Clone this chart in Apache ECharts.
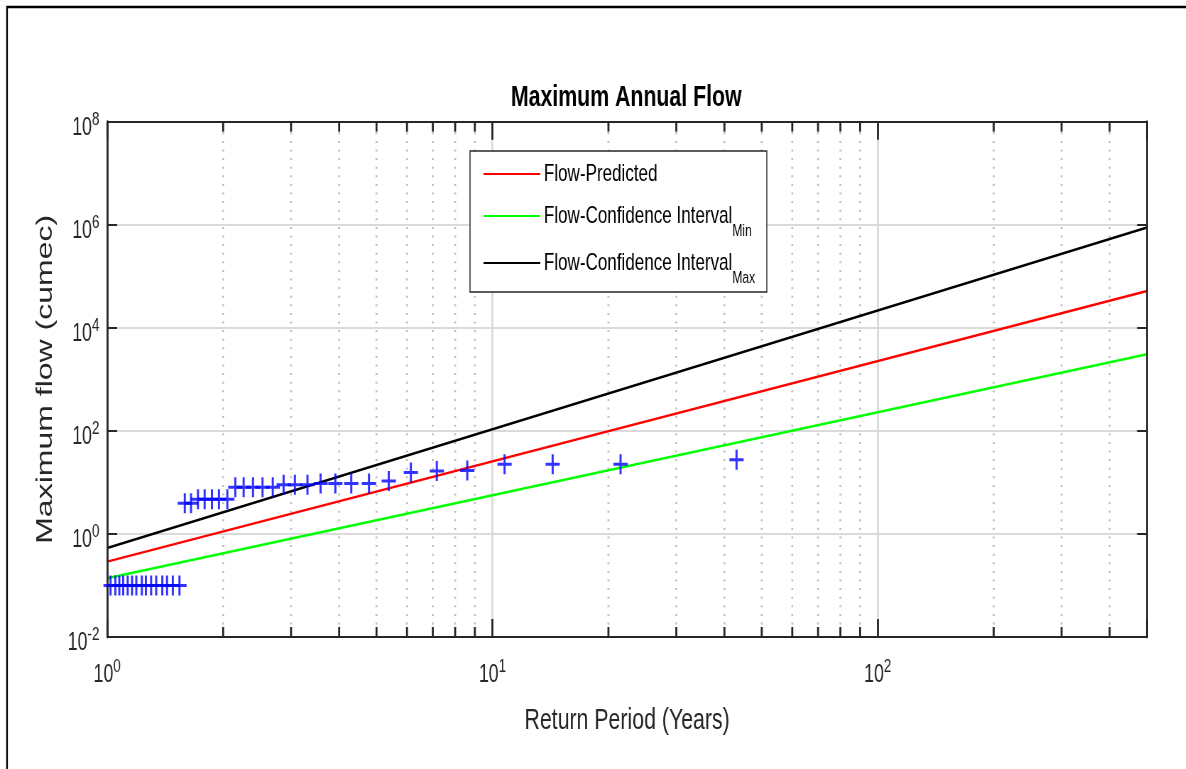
<!DOCTYPE html>
<html><head><meta charset="utf-8">
<script src="https://cdn.jsdelivr.net/npm/echarts@6.0.0/dist/echarts.min.js"></script>
<style>
html,body{margin:0;padding:0;overflow:hidden;background:#fff;width:1186px;height:769px}
#chart{width:1670px;height:769px;transform:scaleX(0.71);transform-origin:0 0}
</style></head><body><div id="chart"></div>
<script>
// Observed annual maxima (plotting positions)
const returnPeriod = [43, 21.5, 14.33, 10.75, 8.6, 7.17, 6.14, 5.38, 4.78, 4.3, 3.91, 3.58, 3.31, 3.07, 2.87, 2.69, 2.53, 2.39, 2.26, 2.15, 2.05, 1.95, 1.87, 1.79, 1.72, 1.65, 1.59, 1.54, 1.48, 1.43, 1.39, 1.34, 1.30, 1.26, 1.23, 1.19, 1.16, 1.13, 1.10, 1.075, 1.05, 1.02];
const observedFlow = [27.5, 22.5, 22.5, 22.5, 17.0, 16.7, 15.6, 10.7, 9.5, 9.5, 9.5, 9.5, 9.0, 9.0, 9.0, 8.1, 8.1, 8.1, 8.1, 8.1, 4.7, 4.7, 4.7, 4.7, 4.7, 3.95, 3.95, 0.1, 0.1, 0.1, 0.1, 0.1, 0.1, 0.1, 0.1, 0.1, 0.1, 0.1, 0.1, 0.1, 0.1, 0.1];
// Fitted lines (end points)
const lineReturnPeriod = [1, 500];
const flowPredicted = [0.29, 51900];
const flowCIMin = [0.138, 3060];
const flowCIMax = [0.535, 883000];
// Axis ticks
const xMin = 1, xMax = 500;
const yMin = 0.01, yMax = 1e8;
const minorXTicks = [2, 3, 4, 5, 6, 7, 8, 9, 20, 30, 40, 50, 60, 70, 80, 90, 200, 300, 400];
const seriesNames = ['Flow-Predicted', 'Flow-Confidence Interval_Min', 'Flow-Confidence Interval_Max'];
const titleText = 'Maximum Annual Flow';
const xName = 'Return Period (Years)';
const yName = 'Maximum flow (cumec)';

const FONT = "'Liberation Sans', Arial, Helvetica, sans-serif";
const AX = '#262626';

function zip(xs, ys) { return xs.map((x, i) => [x, ys[i]]); }
function powLabel(style) {
  return function (v) {
    const e = Math.log10(v);
    const r = Math.round(e);
    if (Math.abs(e - r) > 1e-6) return '';
    return '{' + style + 'b|10}{' + style + 's|' + r + '}';
  };
}

const chart = echarts.init(document.getElementById('chart'), null, { renderer: 'canvas' });

const baseX = { type: 'log', logBase: 10, min: xMin, max: xMax, interval: 1, gridIndex: 0 };
const baseY = { type: 'log', logBase: 10, min: yMin, max: yMax, interval: 2, gridIndex: 0 };

// one legend block per entry
const legendTops = [150, 192, 239];
const legendRich = {
  m: { fontSize: 24, lineHeight: 26, fontFamily: FONT },
  s: { fontSize: 17, lineHeight: 16, padding: [30, 0, 0, 0], fontFamily: FONT }
};
const legends = seriesNames.map((name, i) => ({
  orient: 'vertical', left: 680, top: legendTops[i], padding: 0, z: 6,
  itemWidth: 80, itemHeight: 60, itemGap: 0,
  itemStyle: { opacity: 0, borderWidth: 0 },
  data: [name],
  formatter: function (n) {
    const p = n.split('_');
    return p.length > 1 ? '{m|' + p[0] + '}{s|' + p[1] + '}' : '{m|' + n + '}';
  },
  textStyle: { color: '#000', fontFamily: FONT, fontSize: 24, rich: legendRich }
}));

chart.setOption({
  animation: false,
  backgroundColor: '#fff',
  textStyle: { fontFamily: FONT },
  title: {
    text: titleText, left: 882, top: 83, padding: 0, textAlign: 'center',
    textStyle: { fontFamily: FONT, fontSize: 30, fontWeight: 'bold', color: '#000' }
  },
  grid: { left: 151, right: 54.5, top: 121.7, bottom: 132, containLabel: false },
  legend: legends,
  xAxis: [
    Object.assign({}, baseX, {
      position: 'bottom', z: 3,
      axisLine: { show: true, lineStyle: { color: AX, width: 2 } },
      axisTick: { show: true, inside: true, length: 18, lineStyle: { color: AX, width: 2.8 } },
      axisLabel: {
        show: true, margin: 25, color: AX, formatter: powLabel('x'),
        rich: {
          xb: { fontSize: 25, lineHeight: 26, color: AX, fontFamily: FONT },
          xs: { fontSize: 19, lineHeight: 19, padding: [0, 0, 16, 0], color: AX, fontFamily: FONT }
        }
      },
      splitLine: { show: false },
      name: xName, nameLocation: 'middle', nameGap: 69,
      nameTextStyle: { fontSize: 30, color: AX, fontFamily: FONT }
    }),
    Object.assign({}, baseX, {
      position: 'top', z: 3,
      axisLine: { show: true, lineStyle: { color: AX, width: 2 } },
      axisTick: { show: true, inside: true, length: 18, lineStyle: { color: AX, width: 2.8 } },
      axisLabel: { show: false }, splitLine: { show: false }
    }),
    Object.assign({}, baseX, {
      position: 'bottom', z: 0,
      axisLine: { show: false }, axisTick: { show: false }, axisLabel: { show: false },
      splitLine: { show: true, showMinLine: false, showMaxLine: false, lineStyle: { color: '#dadada', width: 2.8 } }
    })
  ],
  yAxis: [
    Object.assign({}, baseY, {
      position: 'left', z: 3,
      axisLine: { show: true, lineStyle: { color: AX, width: 2.8 } },
      axisTick: { show: true, inside: true, length: 14, lineStyle: { color: AX, width: 2 } },
      axisLabel: {
        show: true, margin: 11, color: AX, formatter: powLabel('y'),
        rich: {
          yb: { fontSize: 25, lineHeight: 26, padding: [12, 0, 0, 0], color: AX, fontFamily: FONT },
          ys: { fontSize: 19, lineHeight: 19, padding: [0, 0, 4, 0], color: AX, fontFamily: FONT }
        }
      },
      splitLine: { show: false },
      name: yName, nameLocation: 'middle', nameGap: 71, nameRotate: 90,
      nameTextStyle: { fontSize: 32, color: AX, fontFamily: FONT }
    }),
    Object.assign({}, baseY, {
      position: 'right', z: 3,
      axisLine: { show: true, lineStyle: { color: AX, width: 2.8 } },
      axisTick: { show: true, inside: true, length: 14, lineStyle: { color: AX, width: 2 } },
      axisLabel: { show: false }, splitLine: { show: false }
    }),
    Object.assign({}, baseY, {
      position: 'left', z: 0,
      axisLine: { show: false }, axisTick: { show: false }, axisLabel: { show: false },
      splitLine: { show: true, showMinLine: false, showMaxLine: false, lineStyle: { color: '#dadada', width: 2 } }
    })
  ],
  graphic: [
    { type: 'polyline', z: 0, shape: { points: [[9.9, 775], [9.9, 7], [1720, 7]] }, style: { stroke: '#000', fill: null, lineWidth: 2.4 } },
    { type: 'rect', z: 5, shape: { x: 662, y: 151, width: 418, height: 141 }, style: { fill: '#fff', stroke: AX, lineWidth: 1.4 } }
  ],
  series: [
    {
      type: 'custom', name: 'minor', xAxisIndex: 0, yAxisIndex: 0, z: 1, silent: true,
      data: minorXTicks.map(v => [v, 1]),
      encode: { x: 0, y: 1 },
      renderItem: function (params, api) {
        const v = api.value(0);
        const t = api.coord([v, yMax]);
        const b = api.coord([v, yMin]);
        return {
          type: 'group',
          children: [
            { type: 'line', shape: { x1: t[0], y1: t[1] + 2, x2: b[0], y2: b[1] - 2 }, style: { stroke: '#c0c0c0', lineWidth: 2.8, lineDash: [2, 6.6] } },
            { type: 'line', shape: { x1: b[0], y1: b[1], x2: b[0], y2: b[1] - 10 }, style: { stroke: AX, lineWidth: 2.8 } },
            { type: 'line', shape: { x1: t[0], y1: t[1], x2: t[0], y2: t[1] + 10 }, style: { stroke: AX, lineWidth: 2.8 } }
          ]
        };
      }
    },
    { type: 'line', name: seriesNames[0], data: zip(lineReturnPeriod, flowPredicted), showSymbol: false, symbol: 'none', color: '#ff0000', lineStyle: { color: '#ff0000', width: 2.5 }, z: 2 },
    { type: 'line', name: seriesNames[1], data: zip(lineReturnPeriod, flowCIMin), showSymbol: false, symbol: 'none', color: '#00ff00', lineStyle: { color: '#00ff00', width: 2.5 }, z: 2 },
    { type: 'line', name: seriesNames[2], data: zip(lineReturnPeriod, flowCIMax), showSymbol: false, symbol: 'none', color: '#000000', lineStyle: { color: '#000000', width: 2.5 }, z: 2 },
    {
      type: 'scatter', name: 'Observed', data: zip(returnPeriod, observedFlow), z: 4,
      symbol: 'path://M0,8.5H8.5V0H11.5V8.5H20V11.5H11.5V20H8.5V11.5H0Z', symbolSize: 20,
      itemStyle: { color: '#0000ff' }
    }
  ]
});
</script></body></html>
